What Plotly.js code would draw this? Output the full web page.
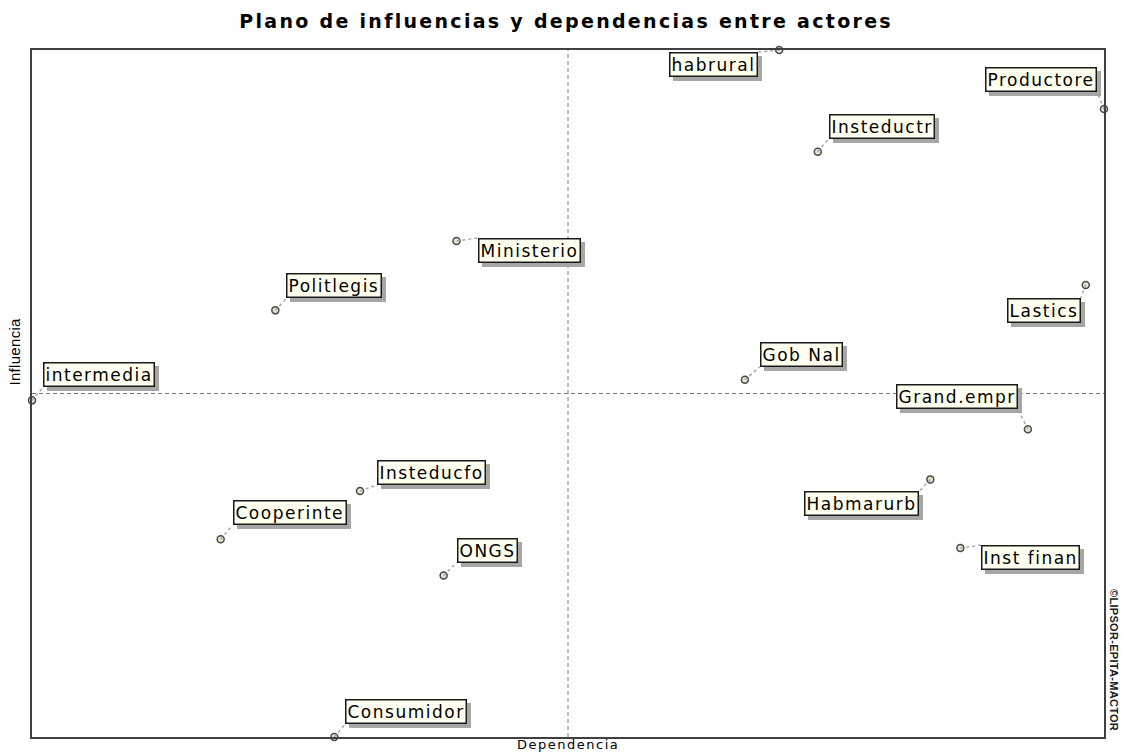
<!DOCTYPE html>
<html>
<head>
<meta charset="utf-8">
<script src="https://cdn.plot.ly/plotly-3.0.1.min.js"></script>
<style>
  html, body { margin: 0; padding: 0; background: #ffffff; }
  #chart { width: 1121px; height: 753px; }
  text.annotation-text { letter-spacing: 1.5px; }
  g.annotation[data-index="16"] text.annotation-text,
  g.annotation[data-index="17"] text.annotation-text { letter-spacing: 0.3px; }
  .gtitle { letter-spacing: 2.3px; }
  g.annotation rect.bg { filter: drop-shadow(4px 4px 0px #a6a6a6); }
</style>
</head>
<body>
<div id="chart"></div>
<script>
// ---- Data ----
const actors = ["habrural", "Productore", "Insteductr", "Ministerio", "Politlegis",
                "Lastics", "intermedia", "Gob Nal", "Grand.empr", "Insteducfo",
                "Habmarurb", "Cooperinte", "Inst finan", "ONGS", "Consumidor"];
const dependencia = [69.7, 100.0, 73.3, 39.6, 22.7,
                     98.3, 0.0, 66.5, 92.9, 30.6,
                     83.8, 17.6, 86.6, 38.4, 28.2];
const influencia = [100.0, 91.4, 85.2, 72.2, 62.1,
                    65.8, 49.0, 52.0, 44.8, 35.8,
                    37.5, 28.8, 27.5, 23.5, 0.0];

// ---- Label placement (screen pixel offsets from each point; layout only) ----
const labelPlacement = [
  [-21, 2, "right", "top"],
  [-7, -17, "right", "bottom"],
  [11, -13, "left", "bottom"],
  [21, -3, "left", "top"],
  [11, -12, "left", "bottom"],
  [-5, 13, "right", "top"],
  [11, -13, "left", "bottom"],
  [15, -13, "left", "bottom"],
  [-10, -20, "right", "bottom"],
  [17, -6, "left", "bottom"],
  [-11, 12, "right", "top"],
  [12, -14, "left", "bottom"],
  [21, -3, "left", "top"],
  [13, -13, "left", "bottom"],
  [11, -13, "left", "bottom"]
];

const xRange = [0, 100];
const yRange = [0, 100];
const xMid = (xRange[0] + xRange[1]) / 2;
const yMid = (yRange[0] + yRange[1]) / 2;

const labelFont = { family: "DejaVu Sans, Verdana, sans-serif", size: 17, color: "#000000" };

const shapes = [
  { type: "line", xref: "x", yref: "paper", x0: xMid, x1: xMid, y0: 0, y1: 1,
    line: { color: "#7a7a7a", width: 1, dash: "4px,3px" }, layer: "below" },
  { type: "line", xref: "paper", yref: "y", x0: 0, x1: 1, y0: yMid, y1: yMid,
    line: { color: "#7a7a7a", width: 1, dash: "4px,3px" }, layer: "below" }
];

const annotations = [];
actors.forEach((name, i) => {
  const [ox, oy, xa, ya] = labelPlacement[i];
  // dotted leader line
  shapes.push({
    type: "line", xref: "x", yref: "y",
    xsizemode: "pixel", ysizemode: "pixel",
    xanchor: dependencia[i], yanchor: influencia[i],
    x0: 0, y0: 0, x1: ox, y1: -oy,
    line: { color: "#a8a8a8", width: 1.5, dash: "dot" }
  });
  // label box (shadow added via CSS drop-shadow on its background)
  annotations.push({
    x: dependencia[i], y: influencia[i], xref: "x", yref: "y",
    text: name, showarrow: false, xanchor: xa, yanchor: ya,
    xshift: ox, yshift: -oy,
    font: labelFont,
    bgcolor: "#fffff0", bordercolor: "#1a1a1a", borderwidth: 1.5, borderpad: 1
  });
});

// axis titles and credit
annotations.push({
  xref: "paper", yref: "paper", x: 0.5, y: -0.0116, xanchor: "center", yanchor: "middle",
  showarrow: false, text: "Dependencia",
  font: { family: "DejaVu Sans, sans-serif", size: 13, color: "#000000" }
});
annotations.push({
  xref: "paper", yref: "paper", x: 0, y: 0.5, xanchor: "right", yanchor: "bottom",
  xshift: -8, showarrow: false, text: "Influencia", textangle: -90,
  font: { family: "Liberation Sans, Arial, sans-serif", size: 15, color: "#000000" }
});
annotations.push({
  xref: "paper", yref: "paper", x: 1, y: 0.112, xanchor: "left", yanchor: "middle",
  xshift: 2, showarrow: false, text: "©LIPSOR-EPITA-MACTOR", textangle: 90,
  font: { family: "Liberation Sans, Arial, sans-serif", size: 11, color: "#202020", weight: "bold" }
});

const trace = {
  type: "scatter", mode: "markers",
  x: dependencia, y: influencia, text: actors,
  cliponaxis: false,
  marker: { symbol: "circle", size: 7, color: "#e4e4cc",
            line: { color: "#4a4a4a", width: 1.5 } },
  hoverinfo: "text"
};

const layout = {
  width: 1121, height: 753,
  margin: { l: 32, r: 17, t: 50, b: 16 },
  paper_bgcolor: "#ffffff", plot_bgcolor: "#ffffff",
  showlegend: false,
  title: {
    text: "Plano de influencias y dependencias entre actores",
    font: { family: "DejaVu Sans, Verdana, sans-serif", size: 19, color: "#000000", weight: "bold" },
    x: 0.505, xanchor: "center", y: 0.972, yanchor: "middle", yref: "container"
  },
  xaxis: { range: xRange, showgrid: false, zeroline: false, showticklabels: false, ticks: "",
           showline: true, mirror: true, linecolor: "#404040", linewidth: 2, fixedrange: true },
  yaxis: { range: yRange, showgrid: false, zeroline: false, showticklabels: false, ticks: "",
           showline: true, mirror: true, linecolor: "#404040", linewidth: 2, fixedrange: true },
  shapes: shapes,
  annotations: annotations
};

Plotly.newPlot("chart", [trace], layout, { displayModeBar: false, staticPlot: true });
</script>
</body>
</html>
